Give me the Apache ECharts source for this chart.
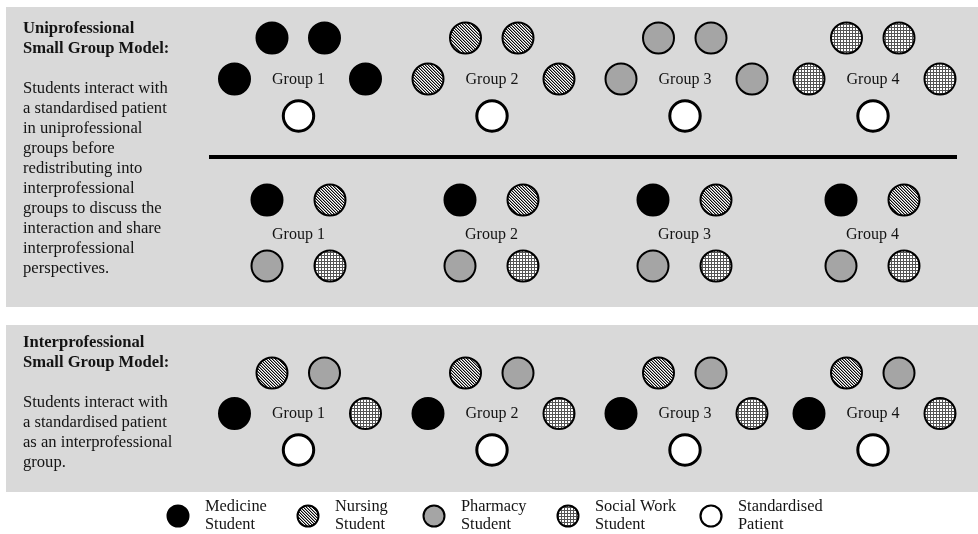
<!DOCTYPE html>
<html>
<head>
<meta charset="utf-8">
<script src="https://cdn.jsdelivr.net/npm/echarts@6/dist/echarts.min.js"></script>
<style>
html,body{margin:0;padding:0;background:#fff;}
#chart{width:978px;height:534px;}
</style>
</head>
<body>
<div id="chart"></div>
<script>
// ---------------- DATA ----------------
const groupNames = ['Group 1', 'Group 2', 'Group 3', 'Group 4'];
const roleKeys = ['medicine', 'nursing', 'pharmacy', 'socialWork', 'patient'];
// Uniprofessional model: each group is made of one profession (4 students) + a standardised patient
const uniGroupRoles = ['medicine', 'nursing', 'pharmacy', 'socialWork'];
const uniSeatCount = 4;
// Redistributed interprofessional discussion groups (seats: top-left, top-right, bottom-left, bottom-right)
const mixedSeatRoles = ['medicine', 'nursing', 'pharmacy', 'socialWork'];
// Interprofessional model (seats: top-left, top-right, left, right, bottom)
const interSeatRoles = ['nursing', 'pharmacy', 'medicine', 'socialWork', 'patient'];
// Legend
const legendRoles = ['medicine', 'nursing', 'pharmacy', 'socialWork', 'patient'];
const legendLine1 = ['Medicine', 'Nursing', 'Pharmacy', 'Social Work', 'Standardised'];
const legendLine2 = ['Student', 'Student', 'Student', 'Student', 'Patient'];
// Panel texts
const uniTitle = ['Uniprofessional', 'Small Group Model:'];
const uniText = ['Students interact with', 'a standardised patient', 'in uniprofessional', 'groups before',
  'redistributing into', 'interprofessional', 'groups to discuss the', 'interaction and share',
  'interprofessional', 'perspectives.'];
const interTitle = ['Interprofessional', 'Small Group Model:'];
const interText = ['Students interact with', 'a standardised patient', 'as an interprofessional', 'group.'];

// ---------------- LAYOUT ----------------
const W = 978, H = 534;
const LAYOUT = {
  groupX: [298.5, 492, 685, 873],
  ringDX: [-26.5, 26, -64, 67, 0],      // seat x offsets (top-left, top-right, left, right, bottom)
  ringRow: [0, 0, 1, 1, 2],
  uniRowsY: [38, 79, 116], uniLabelY: 80,
  interRowsY: [373, 413.5, 450], interLabelY: 414,
  mixedX: [-31.5, 31.5], mixedRowsY: [200, 266], mixedLabelY: 235,
  mixedGroupX: [298.5, 491.5, 684.5, 872.5],
  legendX: [178, 308, 434, 568, 711], legendY: 516, legendTextDX: 27, legendLineY: [507, 525],
  textX: 23
};

// ---------------- PATTERNS ----------------
function makeTile(n, fn) {
  const c = document.createElement('canvas');
  c.width = n; c.height = n;
  const ctx = c.getContext('2d');
  const img = ctx.createImageData(n, n);
  for (let y = 0; y < n; y++) for (let x = 0; x < n; x++) {
    const k = (y * n + x) * 4;
    const v = fn(x, y);
    img.data[k] = v; img.data[k + 1] = v; img.data[k + 2] = v; img.data[k + 3] = 255;
  }
  ctx.putImageData(img, 0, 0);
  return c;
}
const hatchShades = [10, 150, 255];
const hatchTile = makeTile(3, (x, y) => hatchShades[((x - y) % 3 + 3) % 3]);
const gridTile = makeTile(3, (x, y) => (x % 3 === 0 || y % 3 === 0 ? 85 : 255));
const FILLS = {
  medicine: '#000000',
  nursing: { image: hatchTile, repeat: 'repeat' },
  pharmacy: '#a5a5a5',
  socialWork: { image: gridTile, repeat: 'repeat' },
  patient: '#ffffff'
};

// ---------------- BUILD POINTS ----------------
// [x, y, roleIndex, isLegend]
const points = [];
groupNames.forEach((g, gi) => {
  const cx = LAYOUT.groupX[gi];
  for (let s = 0; s < uniSeatCount; s++) {
    points.push([cx + LAYOUT.ringDX[s], LAYOUT.uniRowsY[LAYOUT.ringRow[s]], roleKeys.indexOf(uniGroupRoles[gi]), 0]);
  }
  points.push([cx + LAYOUT.ringDX[4], LAYOUT.uniRowsY[2], roleKeys.indexOf('patient'), 0]);
  const mx = LAYOUT.mixedGroupX[gi];
  mixedSeatRoles.forEach((r, s) => {
    points.push([mx + LAYOUT.mixedX[s % 2], LAYOUT.mixedRowsY[Math.floor(s / 2)], roleKeys.indexOf(r), 0]);
  });
  interSeatRoles.forEach((r, s) => {
    points.push([cx + LAYOUT.ringDX[s], LAYOUT.interRowsY[LAYOUT.ringRow[s]], roleKeys.indexOf(r), 0]);
  });
});
legendRoles.forEach((r, i) => {
  points.push([LAYOUT.legendX[i], LAYOUT.legendY, roleKeys.indexOf(r), 1]);
});

// ---------------- GRAPHICS (background, texts) ----------------
const FONT = '"Liberation Serif", "Times New Roman", serif';
const TXT = '#141414';
const graphics = [];
graphics.push({ type: 'rect', z: -10, shape: { x: 6, y: 7, width: W - 6, height: 300 }, style: { fill: '#d9d9d9' }, silent: true });
graphics.push({ type: 'rect', z: -10, shape: { x: 6, y: 325, width: W - 6, height: 167 }, style: { fill: '#d9d9d9' }, silent: true });
graphics.push({ type: 'line', z: -5, shape: { x1: 209, y1: 157, x2: 957, y2: 157 }, style: { stroke: '#000', lineWidth: 4 }, silent: true });

function addText(t, x, y, bold, size, align) {
  graphics.push({
    type: 'text', x: x, y: y, silent: true,
    style: {
      text: t, font: (bold ? 'bold ' : '') + size + 'px ' + FONT, fill: TXT,
      textAlign: align || 'left', textVerticalAlign: 'middle', align: align || 'left', verticalAlign: 'middle'
    }
  });
}
uniTitle.forEach((t, i) => addText(t, LAYOUT.textX, 29 + i * 19.5, true, 16.6));
uniText.forEach((t, i) => addText(t, LAYOUT.textX, 89 + i * 20, false, 16.6));
interTitle.forEach((t, i) => addText(t, LAYOUT.textX, 343 + i * 19.5, true, 16.6));
interText.forEach((t, i) => addText(t, LAYOUT.textX, 403 + i * 20, false, 16.6));
groupNames.forEach((g, gi) => {
  addText(g, LAYOUT.groupX[gi], LAYOUT.uniLabelY, false, 16, 'center');
  addText(g, LAYOUT.mixedGroupX[gi], LAYOUT.mixedLabelY, false, 16, 'center');
  addText(g, LAYOUT.groupX[gi], LAYOUT.interLabelY, false, 16, 'center');
});
legendRoles.forEach((r, i) => {
  addText(legendLine1[i], LAYOUT.legendX[i] + LAYOUT.legendTextDX, LAYOUT.legendLineY[0], false, 16.4);
  addText(legendLine2[i], LAYOUT.legendX[i] + LAYOUT.legendTextDX, LAYOUT.legendLineY[1], false, 16.4);
});

// ---------------- CHART ----------------
const chart = echarts.init(document.getElementById('chart'), null, { renderer: 'canvas' });
chart.setOption({
  animation: false,
  backgroundColor: '#ffffff',
  grid: { left: 0, right: 0, top: 0, bottom: 0, containLabel: false },
  xAxis: { type: 'value', min: 0, max: W, show: false },
  yAxis: { type: 'value', min: 0, max: H, inverse: true, show: false },
  graphic: graphics,
  series: [{
    type: 'custom',
    silent: true,
    coordinateSystem: 'cartesian2d',
    data: points,
    renderItem: function (params, api) {
      const p = api.coord([api.value(0), api.value(1)]);
      const role = roleKeys[api.value(2)];
      const legend = api.value(3) === 1;
      const isPatient = role === 'patient';
      const r = legend ? 10.5 : (isPatient ? 15.2 : 15.5);
      const lw = isPatient ? (legend ? 2.2 : 3) : 2;
      return {
        type: 'circle',
        shape: { cx: p[0], cy: p[1], r: r },
        style: { fill: FILLS[role], stroke: '#000', lineWidth: lw }
      };
    }
  }]
});
</script>
</body>
</html>
